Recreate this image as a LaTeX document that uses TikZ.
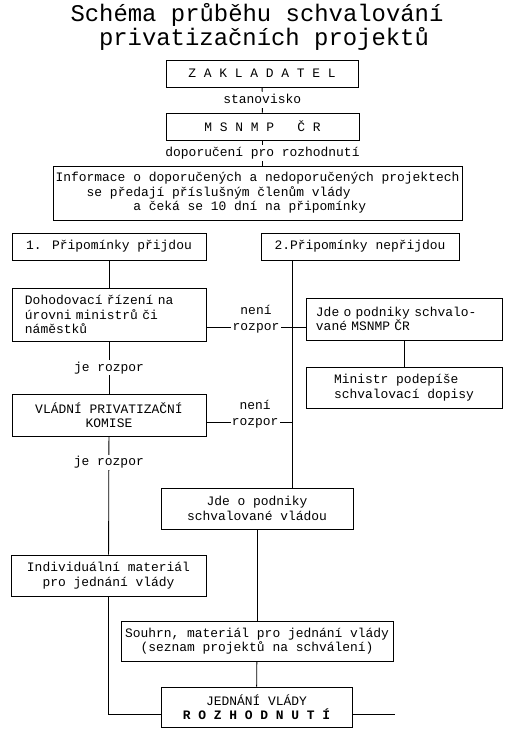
\documentclass[tikz,border=0pt]{standalone}
\usepackage{fontspec}
\usetikzlibrary{positioning}
\newfontfamily\typew{Liberation Mono}
\newcommand\boxfont{\typew\fontsize{9.2}{10.2}\selectfont}

\begin{document}
\begin{tikzpicture}[x=0.025cm,y=-0.025cm,line width=0.6pt,
  box/.style={draw,inner sep=0pt,align=center,font=\boxfont},
  lbl/.style={fill=white,inner sep=1pt,font=\boxfont,text height=7pt,text depth=2pt}]
\useasboundingbox (0,0) rectangle (516,734);
% title
\node[font=\typew\fontsize{17}{20}\selectfont] (title1) at (257,15) {Schéma průběhu schvalování};
\node[font=\typew\fontsize{17}{20}\selectfont] (title2) at (264,39) {privatizačních projektů};
% top
\node[box,minimum width=4.8cm,minimum height=0.675cm] (zak) at (262,73.5) {Z~A~K~L~A~D~A~T~E~L};
\node[box,minimum width=4.825cm,minimum height=0.675cm] (msnmp) at (262.5,126.5) {M~S~N~M~P~~~Č~R};
\node[box,minimum width=10.225cm,minimum height=1.35cm,align=left] (info) at (257.5,193)
  {Informace o doporučených a nedoporučených projektech\\~~~~se předají příslušným členům vlády\\~~~~~~~~~~a čeká se 10 dní na připomínky};
\draw (zak) -- node[lbl] {stanovisko} (msnmp);
\draw (msnmp) -- node[lbl] {doporučení pro rozhodnutí} (msnmp |- info.north);
% branches
\node[box,minimum width=4.85cm,minimum height=0.675cm] (pr1) at (109,246.5) {1. Připomínky přijdou};
\node[box,minimum width=4.95cm,minimum height=0.675cm] (pr2) at (360,246.5) {2.Připomínky nepřijdou};
% left column
\node[box,minimum width=4.85cm,minimum height=1.325cm,text width=4.2cm,align=left] (dohod) at (109,314.5)
  {Dohodovací řízení na\\úrovni ministrů či\\náměstků};
\node[box,minimum width=4.85cm,minimum height=1.05cm] (vpk) at (109,415) {VLÁDNÍ PRIVATIZAČNÍ\\KOMISE};
\node[box,minimum width=4.875cm,minimum height=1.025cm] (indiv) at (108.5,575.5) {Individuální materiál\\pro jednání vlády};
\draw (pr1) -- (dohod);
\draw (dohod) -- node[lbl] {je rozpor} (vpk);
\draw (vpk) -- node[lbl,pos=0.22] {je rozpor} (indiv);
% right column
\node[box,minimum width=4.9cm,minimum height=1.05cm,text width=4.4cm,align=left] (msjde) at (404,319)
  {Jde o podniky schvalo-\\vané MSNMP ČR};
\node[box,minimum width=4.9cm,minimum height=1.025cm,align=left] (ministr) at (404,387.5) {Ministr podepíše\\schvalovací dopisy};
\draw (msjde) -- (ministr);
% middle
\node[box,minimum width=4.8cm,minimum height=1.025cm] (vljde) at (257,508.5) {Jde o podniky\\schvalované vládou};
\node[box,minimum width=6.8cm,minimum height=1cm] (souhrn) at (257,641)
  {Souhrn, materiál pro jednání vlády\\(seznam projektů na schválení)};
\node[box,minimum width=4.775cm,minimum height=1cm] (jedn) at (256.5,707) {JEDNÁNÍ VLÁDY\\{\bfseries R~O~Z~H~O~D~N~U~T~Í}};
\coordinate (trunk) at ([xshift=-1.7cm]pr2.south);
\draw (trunk) -- (trunk |- vljde.north);
\draw (vljde) -- (souhrn);
\draw (souhrn) -- (jedn);
% neni rozpor
\coordinate (nr1a) at ([yshift=-0.3125cm]dohod.east);
\draw (nr1a) -- node[lbl] (nr1) {rozpor} (nr1a -| msjde.west);
\node[lbl,above=0pt of nr1] {není};
\coordinate (nr2a) at ([yshift=-0.175cm]vpk.east);
\draw (nr2a) -- node[lbl,pos=0.57] (nr2) {rozpor} (nr2a -| trunk);
\node[lbl,above=0pt of nr2] {není};
% bottom
\draw (indiv) |- ([yshift=-0.175cm]jedn.west);
\coordinate (stub) at ([xshift=1.075cm,yshift=-0.175cm]jedn.east);
\draw ([yshift=-0.175cm]jedn.east) -- (stub);
\end{tikzpicture}
\end{document}
